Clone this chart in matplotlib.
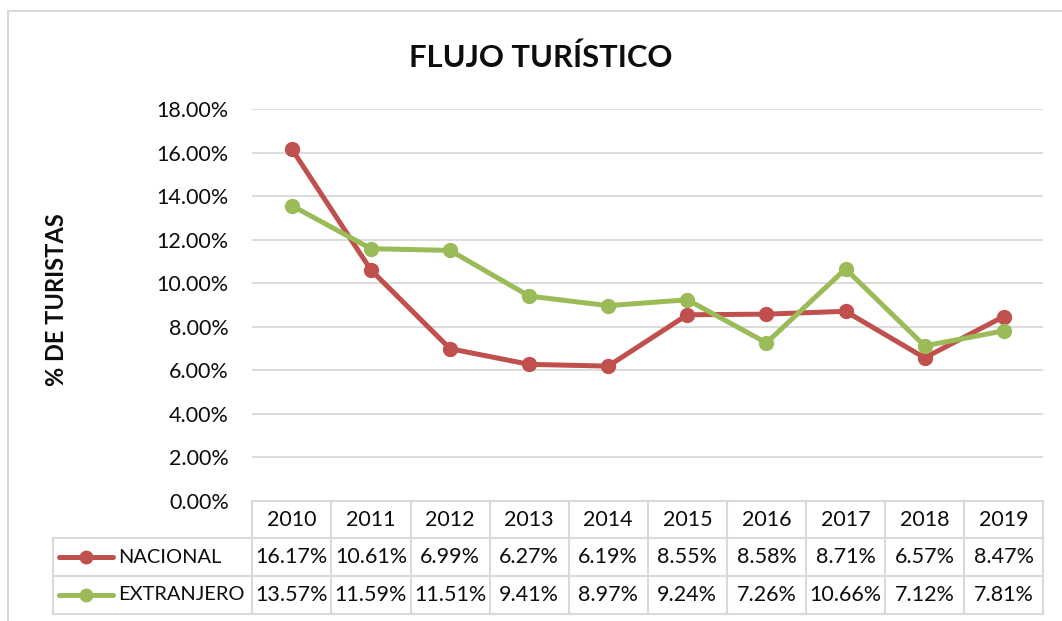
import matplotlib
matplotlib.use("Agg")
import matplotlib.pyplot as plt
from matplotlib.patches import Rectangle

plt.rcParams['font.family'] = ['Lato', 'DejaVu Sans']

years = ['2010', '2011', '2012', '2013', '2014', '2015', '2016', '2017', '2018', '2019']
nacional = [16.17, 10.61, 6.99, 6.27, 6.19, 8.55, 8.58, 8.71, 6.57, 8.47]
extranjero = [13.57, 11.59, 11.51, 9.41, 8.97, 9.24, 7.26, 10.66, 7.12, 7.81]
series_names = ['NACIONAL', 'EXTRANJERO']
series_colors = ['#C0504D', '#9BBB59']
y_ticks = [0, 2, 4, 6, 8, 10, 12, 14, 16, 18]

W, H = 1062, 621
fig = plt.figure(figsize=(W / 100, H / 100), dpi=100)

# plot area, in pixels
left, right, top, bottom = 252.3, 1043.3, 109.3, 500.7
ax = fig.add_axes([left / W, 1 - bottom / H, (right - left) / W, (bottom - top) / H])

x = list(range(len(years)))
for vals, color in zip([nacional, extranjero], series_colors):
    ax.plot(x, vals, color=color, lw=3.6, marker='o', ms=10,
            solid_capstyle='round', zorder=3)

ax.set_xlim(-0.5, len(years) - 0.5)
ax.set_ylim(0, 18)
ax.set_yticks(y_ticks)
ax.set_yticklabels([f"{v:.2f}%" for v in y_ticks])
ax.set_xticks([])
ax.tick_params(axis='y', length=0, pad=17, labelsize=15.5, labelcolor='#0d0d0d')
ax.grid(axis='y', color='#d9d9d9', lw=1.3)
ax.set_axisbelow(True)
for s in ax.spines.values():
    s.set_visible(False)

# data table under the plot
col_w = (right - left) / len(years)
row_h = 37.6 / (bottom - top)
lab_left = -0.5 - (left - 53.3) / col_w
tr = ax.get_xaxis_transform()
grid_kw = dict(color='#d9d9d9', lw=1.5, transform=tr, clip_on=False)

for i in range(len(years) + 1):
    ax.plot([i - 0.5, i - 0.5], [0, -3 * row_h], **grid_kw)
ax.plot([lab_left, lab_left], [-row_h, -3 * row_h], **grid_kw)
ax.plot([-0.5, len(years) - 0.5], [0, 0], **grid_kw)
for r in (1, 2, 3):
    ax.plot([lab_left, len(years) - 0.5], [-r * row_h, -r * row_h], **grid_kw)

txt_kw = dict(transform=tr, ha='center', va='center', fontsize=15.5, color='#0d0d0d')
for i, yr in enumerate(years):
    ax.text(i, -0.5 * row_h, yr, **txt_kw)
for r, vals in enumerate([nacional, extranjero]):
    for i, v in enumerate(vals):
        ax.text(i, -(r + 1.5) * row_h, f"{v:.2f}%", **txt_kw)

# legend keys inside the row labels
def px_to_x(px):
    return -0.5 + (px - left) / col_w

for r, (name, color) in enumerate(zip(series_names, series_colors)):
    yy = -(r + 1.5) * row_h
    ax.plot([px_to_x(59), px_to_x(113)], [yy, yy], color=color, lw=3.6,
            transform=tr, clip_on=False, solid_capstyle='round')
    ax.plot([px_to_x(86)], [yy], marker='o', ms=9, color=color,
            transform=tr, clip_on=False)
    ax.text(px_to_x(118), yy, name, transform=tr, ha='left', va='center',
            fontsize=14.4, color='#0d0d0d')

fig.text(540.5 / W, 1 - 67 / H, 'FLUJO TURÍSTICO', ha='center', va='baseline',
         fontsize=22.3, fontweight='bold', color='#0d0d0d')
fig.text(57 / W, 1 - 300 / H, '% DE TURISTAS', rotation=90, ha='center',
         va='center', fontsize=17, fontweight='bold', color='#0d0d0d')

# chart frame
fig.add_artist(Rectangle((8 / W, -0.1), 2, 1.1 - 11 / H, transform=fig.transFigure,
                         fill=False, ec='#d9d9d9', lw=1.5))

fig.savefig('out.png', dpi=100)
